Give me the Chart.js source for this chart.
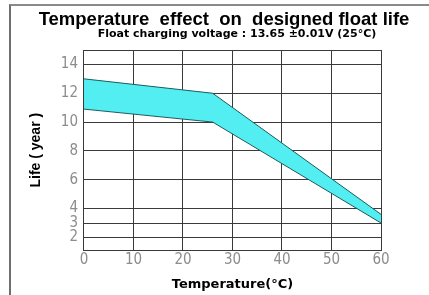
<!DOCTYPE html>
<html>
<head>
<meta charset="utf-8">
<script src="https://cdn.jsdelivr.net/npm/chart.js@4.4.1/dist/chart.umd.min.js"></script>
<style>
    html, body { margin: 0; padding: 0; background: #fff; }
    #wrap { position: relative; width: 429px; height: 295px; overflow: hidden; }
    #frame {
        position: absolute; left: 9px; top: 4px; right: 0; bottom: 0;
        border-top: 2px solid #8a8a8a; border-left: 2px solid #6f6f6f;
    }
    canvas { position: absolute; left: 0; top: 0; }
</style>
</head>
<body>
<div id="wrap">
    <div id="frame"></div>
    <canvas id="life-chart" width="429" height="295"></canvas>
</div>
<script>
// temperature (degC) where the band changes slope
const tempPoints = [0, 26, 60];
// upper and lower float life (years)
const lifeUpper = [13, 12, 3.6];
const lifeLower = [10.9, 10, 3.0];
const yTicks = [2, 3, 4, 6, 8, 10, 12, 14];
const yMin = 1.1;
const yMax = 15;

const titleText = "Temperature  effect  on  designed float life";
const subtitleText = "Float charging voltage : 13.65 \u00b10.01V (25\u00b0C)";

const tickColor = "#8c8c8c";
const gridColor = "#3a3a3a";
const lineColor = "#1d5c5c";
const bandColor = "#52eef2";
const tickFont = { family: "DejaVu Sans Condensed, DejaVu Sans", size: 15 };

const toXY = (vals) => tempPoints.map((t, i) => ({ x: t, y: vals[i] }));

// titles sit off-centre in the original, so draw them by hand
const headerPlugin = {
    id: "header",
    afterDraw(chart) {
        const c = chart.ctx;
        c.save();
        c.fillStyle = "#000";
        c.textAlign = "center";
        c.textBaseline = "middle";
        c.font = "bold 18.5px 'Liberation Sans'";
        c.fillText(titleText, 224, 20);
        c.font = "bold 11px 'DejaVu Sans'";
        c.fillText(subtitleText, 237, 34);
        c.restore();
    },
};

const ctx = document.getElementById("life-chart");
new Chart(ctx, {
    type: "line",
    data: {
        datasets: [
            {
                label: "Lower",
                data: toXY(lifeLower),
                borderColor: lineColor,
                borderWidth: 1,
                pointRadius: 0,
                fill: false,
            },
            {
                label: "Upper",
                data: toXY(lifeUpper),
                borderColor: lineColor,
                backgroundColor: bandColor,
                borderWidth: 1,
                pointRadius: 0,
                fill: "-1",
            },
        ],
    },
    plugins: [headerPlugin],
    options: {
        responsive: false,
        animation: false,
        layout: { padding: { left: 28, right: 48, top: 50, bottom: 3 } },
        plugins: {
            legend: { display: false },
            tooltip: { enabled: false },
        },
        scales: {
            x: {
                type: "linear",
                min: 0,
                max: 60,
                ticks: { stepSize: 10, color: tickColor, padding: 1, font: tickFont },
                grid: { color: gridColor, lineWidth: 1, drawTicks: false },
                border: { color: gridColor, width: 1 },
                title: {
                    display: true,
                    text: "Temperature(\u00b0C)",
                    color: "#000",
                    font: { family: "DejaVu Sans", size: 13, weight: "bold" },
                    padding: { top: 6, bottom: 0 },
                },
            },
            y: {
                min: yMin,
                max: yMax,
                afterBuildTicks: (axis) => {
                    axis.ticks = [yMin].concat(yTicks, [yMax]).map((v) => ({ value: v }));
                },
                ticks: {
                    autoSkip: false,
                    color: tickColor,
                    padding: 6,
                    font: tickFont,
                    callback: (v) => (yTicks.includes(v) ? v : ""),
                },
                grid: { color: gridColor, lineWidth: 1, drawTicks: false },
                border: { color: gridColor, width: 1 },
                title: {
                    display: true,
                    text: "Life ( year )",
                    color: "#000",
                    font: { family: "Liberation Sans", size: 14, weight: "bold" },
                    padding: { top: 0, bottom: 10 },
                },
            },
        },
    },
});
</script>
</body>
</html>
